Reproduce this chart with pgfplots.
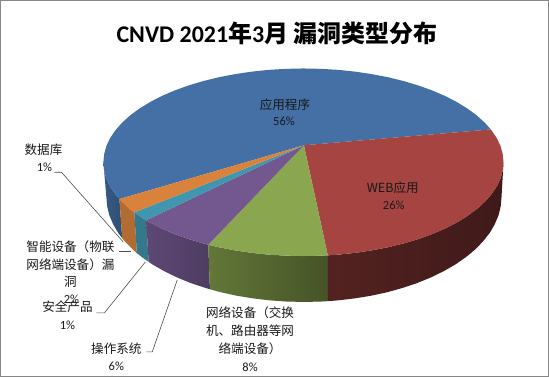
\documentclass[border=0pt]{standalone}
\usepackage{pgfplots}
\pgfplotsset{compat=1.18}
\usepackage{fontspec}
\setmainfont{Carlito}
\newfontfamily\cjk{Noto Sans CJK SC}
\newfontfamily\cjkb{Noto Sans CJK SC Medium}
\definecolor{cblue}{HTML}{4470A5}
\definecolor{cred}{HTML}{A64441}
\definecolor{cgreen}{HTML}{8AA64E}
\definecolor{cpurple}{HTML}{72588F}
\definecolor{cteal}{HTML}{4096AE}
\definecolor{corange}{HTML}{D9823C}
\newcommand{\lab}[3]{\node[align=center,font=\fontsize{12.6}{17.5}\selectfont\cjk,text=black!90,inner sep=0pt] at (axis cs:#1,#2) {#3};}
\newcommand{\num}[3]{\node[align=center,font=\fontsize{12.5}{17.5}\selectfont,text=black!90,inner sep=0pt] at (axis cs:#1,#2) {#3};}
\begin{document}
\begin{tikzpicture}
\begin{axis}[
  scale only axis, width=549pt, height=377pt,
  xmin=0, xmax=549, ymin=0, ymax=377, y dir=reverse,
  xtick=\empty, ytick=\empty, clip=false,
  axis line style={color=black!47, line width=1.2pt},
]
% sides
\addplot[draw=none, left color=cblue!80!black, right color=cblue!70!black] coordinates {
(119.1,198.9)(115.1,194.1)(109.8,186.3)(106,178.3)(103.8,170.2)(103,162)
(106,197)(106.8,206.2)(109,215.2)(112.8,224.2)(117.9,232.9)(121.9,238.2)} -- cycle;
\addplot[draw=none, fill=corange!82!black] coordinates {
(134,212.2)(129.9,209)(121.8,201.7)(119.1,198.9)
(121.9,238.2)(124.6,241.4)(132.5,249.5)(136.6,253.1)} -- cycle;
\addplot[draw=none, fill=cteal!80!black] coordinates {
(145.9,220.1)(139.3,215.9)(134,212.2)
(136.6,253.1)(141.8,257.2)(148.4,261.9)} -- cycle;
\addplot[draw=none, left color=cpurple!82!black, right color=cpurple!68!black] coordinates {
(208.1,244.7)(203.2,243.4)(188.5,239)(174.6,234)(161.7,228.5)(149.9,222.4)(145.9,220.1)
(148.4,261.9)(152.3,264.5)(164,271.2)(176.7,277.4)(190.4,283)(205,287.9)(209.8,289.3)} -- cycle;
\addplot[draw=none, left color=cgreen!72!black, right color=cgreen!50!black] coordinates {
(327.9,255.3)(321,255.6)(303.5,256)(286,255.6)(268.7,254.6)(251.6,252.8)(234.9,250.3)(218.8,247.2)(208.1,244.7)
(209.8,289.3)(220.3,292.2)(236.3,295.7)(252.8,298.4)(269.6,300.4)(286.7,301.6)(304,302)(321.3,301.6)(328.1,301.2)} -- cycle;
\addplot[draw=none, left color=cred!50!black, right color=cred!38!black] coordinates {
(504,162)(503.2,170.2)(501,178.3)(497.2,186.3)(491.9,194.1)(485.2,201.7)(477.1,209)(467.7,215.9)(457.1,222.4)(445.3,228.5)(432.4,234)(418.5,239)(403.8,243.4)(388.2,247.2)(372.1,250.3)(355.4,252.8)(338.3,254.6)(327.9,255.3)
(328.1,301.2)(338.4,300.4)(355.2,298.4)(371.7,295.7)(387.7,292.2)(403,287.9)(417.6,283)(431.3,277.4)(444,271.2)(455.7,264.5)(466.2,257.2)(475.5,249.5)(483.4,241.4)(490.1,232.9)(495.2,224.2)(499,215.2)(501.2,206.2)(502,197)} -- cycle;
% top face
\addplot[draw=none, fill=cblue] coordinates {
(304,145)(119.1,198.9)(115.1,194.1)(109.8,186.3)(106,178.3)(103.8,170.2)(103,162)
(103.8,153.8)(106,145.7)(109.8,137.7)(115.1,129.9)(121.8,122.3)(129.9,115)(139.3,108.1)(149.9,101.6)(161.7,95.5)(174.6,90)(188.5,85)(203.2,80.6)(218.8,76.8)(234.9,73.7)(251.6,71.2)(268.7,69.4)(286,68.4)(303.5,68)
(321,68.4)(338.3,69.4)(355.4,71.2)(372.1,73.7)(388.2,76.8)(403.8,80.6)(418.5,85)(432.4,90)(445.3,95.5)(457.1,101.6)(467.7,108.1)(477.1,115)(485.2,122.3)(491.3,129.1)} -- cycle;
\addplot[draw=none, fill=cred] coordinates {
(304,145)(491.3,129.1)(497.2,137.7)(501,145.7)(503.2,153.8)(504,162)(503.2,170.2)(501,178.3)(497.2,186.3)(491.9,194.1)(485.2,201.7)(477.1,209)(467.7,215.9)(457.1,222.4)(445.3,228.5)(432.4,234)(418.5,239)(403.8,243.4)(388.2,247.2)(372.1,250.3)(355.4,252.8)(338.3,254.6)(327.9,255.3)} -- cycle;
\addplot[draw=none, fill=cgreen] coordinates {
(304,145)(327.9,255.3)(321,255.6)(303.5,256)(286,255.6)(268.7,254.6)(251.6,252.8)(234.9,250.3)(218.8,247.2)(208.1,244.7)} -- cycle;
\addplot[draw=none, fill=cpurple] coordinates {
(304,145)(208.1,244.7)(203.2,243.4)(188.5,239)(174.6,234)(161.7,228.5)(149.9,222.4)(145.9,220.1)} -- cycle;
\addplot[draw=none, fill=cteal] coordinates {
(304,145)(145.9,220.1)(139.3,215.9)(134,212.2)} -- cycle;
\addplot[draw=none, fill=corange] coordinates {
(304,145)(134,212.2)(129.9,209)(121.8,201.7)(119.1,198.9)} -- cycle;
% leader lines
\addplot[color=black!70, line width=0.6pt] coordinates {(54,172)(61,172)(123,242)};
\addplot[color=black!70, line width=0.6pt] coordinates {(119,251)(131,251)};
\addplot[color=black!70, line width=0.6pt] coordinates {(96,313)(104,313)(145,262)};
\addplot[color=black!70, line width=0.6pt] coordinates {(146,352)(152,352)(177,280)};
% text
\node[font=\fontsize{24}{28}\selectfont\bfseries, text=black, inner sep=0pt] at (axis cs:277,33) {CNVD 2021{\cjkb 年}3{\cjkb 月 漏洞类型分布}};
\lab{285}{104}{应用程序}
\num{284}{121}{56\%}
\lab{393}{188}{WEB应用}
\num{394}{205}{26\%}
\lab{43}{149}{数据库}
\num{44}{167}{1\%}
\lab{70}{247}{智能设备（物联}
\lab{70}{265}{网络端设备）漏}
\lab{70}{282}{洞}
\num{71}{299}{2\%}
\lab{67}{307}{安全产品}
\num{67}{325}{1\%}
\lab{116}{349}{操作系统}
\num{116}{366}{6\%}
\lab{250}{313}{网络设备（交换}
\lab{250}{331}{机、路由器等网}
\lab{250}{349}{络端设备）}
\num{250}{367}{8\%}
\end{axis}
\end{tikzpicture}
\end{document}
